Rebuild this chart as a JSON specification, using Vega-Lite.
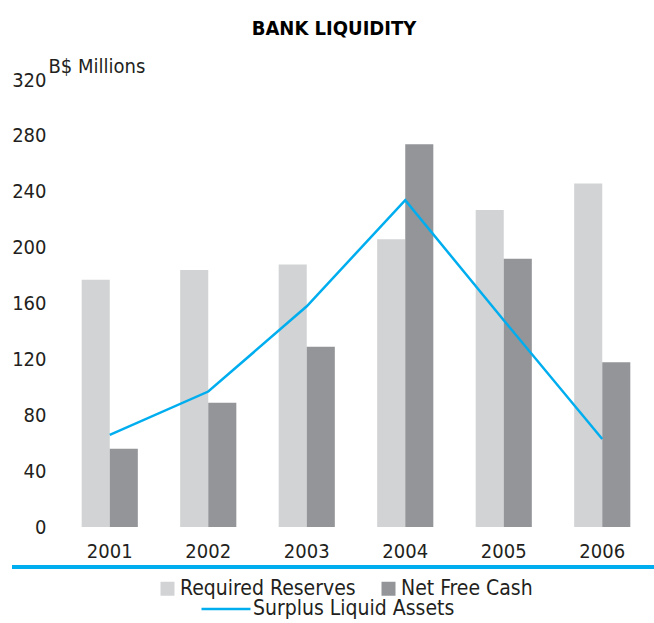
{
  "$schema": "https://vega.github.io/schema/vega-lite/v6.json",
  "autosize": "none",
  "width": 642,
  "height": 487,
  "padding": {"left": 12, "top": 80, "right": 0, "bottom": 56},
  "background": "white",
  "config": {
    "view": {"stroke": null},
    "font": "DejaVu Sans Condensed"
  },
  "title": {
    "text": "BANK LIQUIDITY",
    "font": "DejaVu Sans Condensed",
    "fontSize": 20,
    "fontWeight": "bold",
    "color": "#000000",
    "anchor": "middle",
    "frame": "group",
    "dx": 1,
    "offset": 17
  },
  "data": {
    "values": [
      {"year": "2001", "series": "Required Reserves", "value": 177},
      {"year": "2001", "series": "Net Free Cash", "value": 56},
      {"year": "2001", "series": "Surplus Liquid Assets", "value": 66},
      {"year": "2002", "series": "Required Reserves", "value": 184},
      {"year": "2002", "series": "Net Free Cash", "value": 89},
      {"year": "2002", "series": "Surplus Liquid Assets", "value": 97},
      {"year": "2003", "series": "Required Reserves", "value": 188},
      {"year": "2003", "series": "Net Free Cash", "value": 129},
      {"year": "2003", "series": "Surplus Liquid Assets", "value": 158},
      {"year": "2004", "series": "Required Reserves", "value": 206},
      {"year": "2004", "series": "Net Free Cash", "value": 274},
      {"year": "2004", "series": "Surplus Liquid Assets", "value": 234},
      {"year": "2005", "series": "Required Reserves", "value": 227},
      {"year": "2005", "series": "Net Free Cash", "value": 192},
      {"year": "2005", "series": "Surplus Liquid Assets", "value": 148},
      {"year": "2006", "series": "Required Reserves", "value": 246},
      {"year": "2006", "series": "Net Free Cash", "value": 118},
      {"year": "2006", "series": "Surplus Liquid Assets", "value": 63}
    ]
  },
  "layer": [
    {
      "transform": [{"filter": "datum.series != 'Surplus Liquid Assets'"}],
      "mark": {"type": "bar"},
      "encoding": {
        "x": {
          "field": "year",
          "type": "nominal",
          "scale": {"range": [49, 639], "paddingInner": 0.43, "paddingOuter": 0.21},
          "axis": {
            "title": null,
            "labelAngle": 0,
            "labelFont": "DejaVu Sans Condensed",
            "labelFontSize": 20,
            "labelColor": "#231f20",
            "labelBaseline": "middle",
            "labelPadding": -16,
            "ticks": false,
            "domain": false,
            "grid": false
          }
        },
        "xOffset": {"field": "series", "type": "nominal", "sort": ["Required Reserves", "Net Free Cash"]},
        "y": {
          "field": "value",
          "type": "quantitative",
          "stack": null,
          "scale": {"domain": [-28.6, 320], "nice": false, "zero": false},
          "axis": {
            "values": [0, 40, 80, 120, 160, 200, 240, 280, 320],
            "offset": -36,
            "domain": false,
            "ticks": false,
            "grid": false,
            "labelPadding": 2,
            "labelFont": "DejaVu Sans Condensed",
            "labelFontSize": 20,
            "labelColor": "#231f20",
            "title": "B$ Millions",
            "titleAngle": 0,
            "titleAlign": "left",
            "titleBaseline": "middle",
            "titleX": 0,
            "titleY": -14,
            "titleFont": "DejaVu Sans Condensed",
            "titleFontSize": 20,
            "titleFontWeight": "normal",
            "titleColor": "#231f20"
          }
        },
        "color": {
          "field": "series",
          "type": "nominal",
          "scale": {"domain": ["Required Reserves", "Net Free Cash"], "range": ["#d1d3d4", "#939598"]},
          "legend": {
            "title": null,
            "orient": "none",
            "direction": "horizontal",
            "legendX": 145,
            "legendY": 498,
            "padding": 0,
            "columnPadding": 22,
            "labelOffset": 2,
            "labelLimit": 400,
            "symbolType": "square",
            "symbolSize": 196,
            "symbolStrokeWidth": 0,
            "labelFont": "DejaVu Sans Condensed",
            "labelFontSize": 21,
            "labelColor": "#231f20"
          }
        }
      }
    },
    {
      "transform": [{"filter": "datum.series == 'Surplus Liquid Assets'"}],
      "mark": {"type": "line", "strokeWidth": 2.5},
      "encoding": {
        "x": {"field": "year", "type": "nominal"},
        "y": {"field": "value", "type": "quantitative"},
        "stroke": {
          "field": "series",
          "type": "nominal",
          "scale": {"domain": ["Surplus Liquid Assets"], "range": ["#00aeef"]},
          "legend": {
            "title": null,
            "orient": "none",
            "legendX": 188,
            "legendY": 503,
            "padding": 0,
            "labelOffset": 1,
            "labelLimit": 400,
            "symbolType": "stroke",
            "symbolSize": 2401,
            "symbolStrokeWidth": 2.5,
            "labelFont": "DejaVu Sans Condensed",
            "labelFontSize": 21,
            "labelColor": "#231f20"
          }
        }
      }
    },
    {
      "mark": {"type": "rule", "color": "#00aeef", "strokeWidth": 4},
      "encoding": {"y": {"datum": -28.6}}
    }
  ]
}
